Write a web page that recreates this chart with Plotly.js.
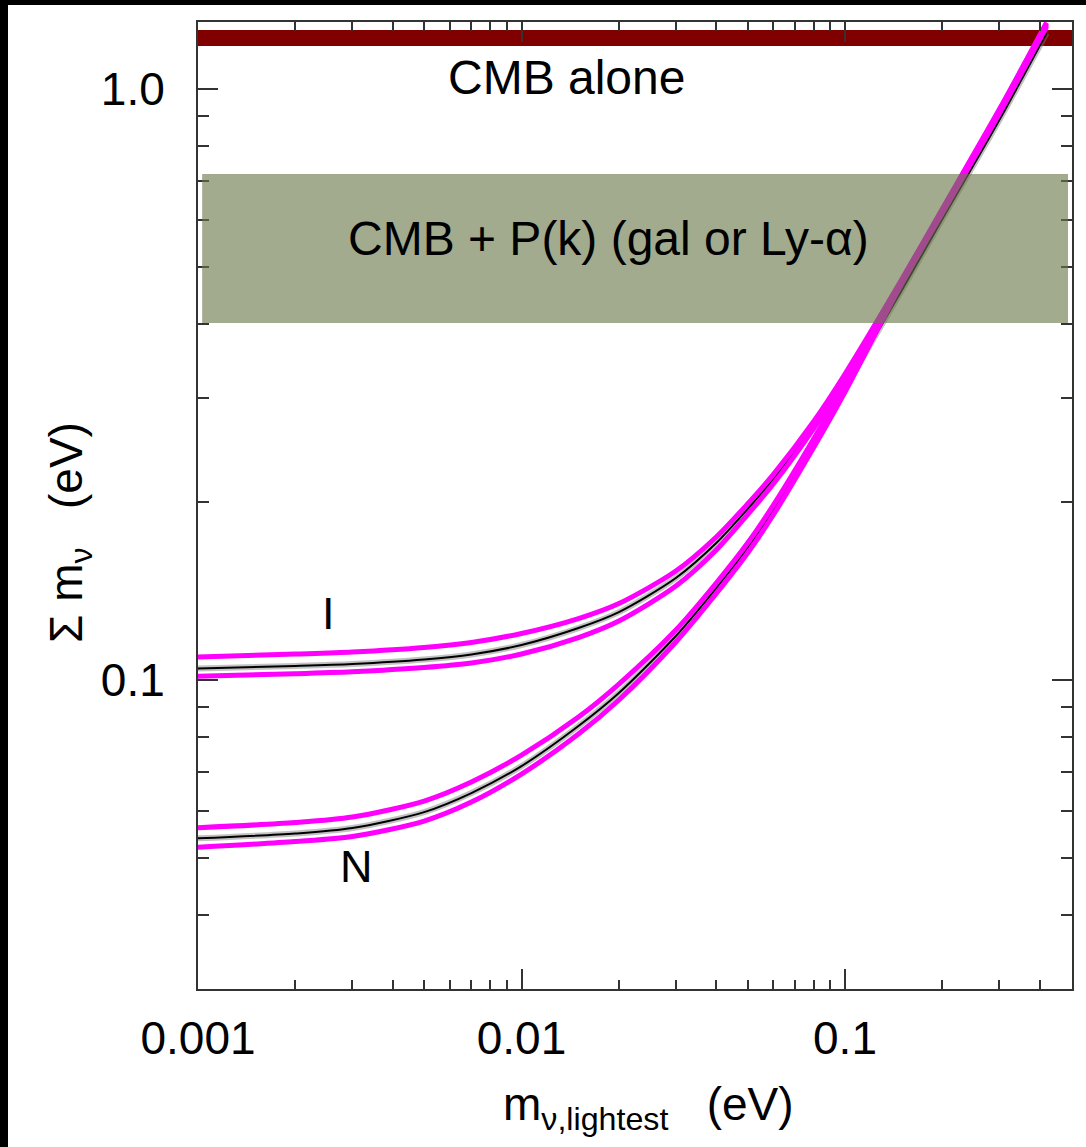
<!DOCTYPE html>
<html>
<head>
<meta charset="utf-8">
<script src="https://cdn.plot.ly/plotly-3.0.1.min.js"></script>
<style>
  html, body { margin:0; padding:0; background:#000; }
  body { width:1086px; height:1147px; position:relative; overflow:hidden; }
  #chart { position:absolute; left:8px; top:5px; width:1078px; height:1142px; background:#fff; }
</style>
</head>
<body>
<div id="chart"></div>
<script>
// ---- data ----
// lightest neutrino mass (eV)
const mLightest = [0.001,0.002,0.003,0.005,0.007,0.01,0.015,0.02,0.03,0.04,0.05,0.06,0.08,0.1,0.15,0.2,0.3,0.42];
// Inverted hierarchy: sum of masses (eV)
const sumI_upper = [0.1094,0.11066,0.11153,0.11350,0.11574,0.11987,0.12704,0.13471,0.15291,0.17457,0.19861,0.22266,0.27380,0.32951,0.4770,0.6273,0.9240,1.296];
const sumI_lower = [0.1015,0.1025,0.10329,0.10499,0.10685,0.11066,0.1180,0.12585,0.14421,0.16596,0.19055,0.21459,0.26638,0.32189,0.4715,0.6200,0.9143,1.283];
const mLightestI_central = [0.001,0.002,0.003,0.005,0.007,0.01,0.015,0.02,0.03,0.04,0.05,0.06,0.08,0.085];
const sumI_central = [0.1046,0.10561,0.10643,0.10831,0.11045,0.11462,0.12245,0.13029,0.14879,0.17052,0.19469,0.21878,0.27009,0.28522];
// Normal hierarchy
const sumN_upper = [0.05625,0.05739,0.05863,0.06241,0.06721,0.07465,0.08657,0.09845,0.12150,0.14592,0.1705,0.19745,0.25572,0.31686,0.4752,0.6238,0.9197,1.291];
const sumN_lower = [0.05210,0.05329,0.05434,0.05773,0.06215,0.06933,0.08102,0.09250,0.11596,0.14006,0.1640,0.19019,0.24739,0.30716,0.4696,0.6168,0.9091,1.276];
const sumN_central = [0.05396,0.05498,0.05617,0.05977,0.06437,0.07151,0.08359,0.09506,0.11870,0.14309,0.16726,0.19393,0.25177,0.31199,0.4570,0.6026,0.8861,1.244];

// bands (eV)
const cmbAloneBand = [1.182, 1.258];
const cmbPkBand = [0.402, 0.718];
const cmbPkBandX = [0.00103, 0.489];

// labels
const bandLabels = ["CMB alone", "CMB + P(k) (gal or Ly-\u03b1)"];
const curveLabels = ["I", "N"];

// ticks
const xTickVals = [0.001, 0.01, 0.1];
const xTickText = ["0.001", "0.01", "0.1"];
const xMinorVals = [0.002,0.003,0.004,0.005,0.006,0.007,0.008,0.009,0.02,0.03,0.04,0.05,0.06,0.07,0.08,0.09,0.2,0.3,0.4];
const yTickVals = [0.1, 1.0];
const yTickText = ["0.1", "1.0"];
const yMinorVals = [0.04,0.05,0.06,0.07,0.08,0.09,0.2,0.3,0.4,0.5,0.6,0.7,0.8,0.9];

const FONT = "Liberation Sans, Arial, Helvetica, sans-serif";
const MAGENTA = "#ff00ff";

function halo(x, y) {
  return {x:x, y:y, type:'scatter', mode:'lines', hoverinfo:'skip',
          line:{color:'rgba(120,120,120,0.45)', width:6, shape:'spline', smoothing:0.8}};
}
function core(x, y) {
  return {x:x, y:y, type:'scatter', mode:'lines', hoverinfo:'skip',
          line:{color:'#000', width:2, shape:'spline', smoothing:0.8}};
}
function mag(x, y) {
  return {x:x, y:y, type:'scatter', mode:'lines', hoverinfo:'skip',
          line:{color:MAGENTA, width:5, shape:'spline', smoothing:0.8}};
}

const traces = [
  halo(mLightestI_central, sumI_central),
  core(mLightestI_central, sumI_central),
  halo(mLightest, sumN_central),
  core(mLightest, sumN_central),
  mag(mLightest, sumI_upper),
  mag(mLightest, sumI_lower),
  mag(mLightest, sumN_upper),
  mag(mLightest, sumN_lower)
];

const axisCommon = {
  type:'log', showgrid:false, zeroline:false,
  showline:true, linecolor:'#333', linewidth:2, mirror:'ticks',
  ticks:'inside', ticklen:20, tickwidth:2, tickcolor:'#333',
  tickmode:'array',
  tickfont:{family:FONT, size:46, color:'#000'},
  fixedrange:true
};

const layout = {
  width:1078, height:1142,
  margin:{l:190, r:14, t:17, b:158, pad:0},
  paper_bgcolor:'#fff', plot_bgcolor:'#fff',
  showlegend:false,
  xaxis: Object.assign({}, axisCommon, {
    range:[-3, -0.2983],
    tickvals:xTickVals, ticktext:xTickText,
    ticklabelstandoff:8,
    minor:{ticks:'inside', ticklen:9, tickwidth:2, tickcolor:'#333', tickmode:'array', tickvals:xMinorVals, showgrid:false}
  }),
  yaxis: Object.assign({}, axisCommon, {
    range:[-1.5228, 0.1134],
    tickvals:yTickVals, ticktext:yTickText,
    ticklabelstandoff:22,
    minor:{ticks:'inside', ticklen:11, tickwidth:2, tickcolor:'#333', tickmode:'array', tickvals:yMinorVals, showgrid:false}
  }),
  shapes:[
    {type:'rect', xref:'paper', yref:'y', x0:0, x1:1, y0:cmbAloneBand[0], y1:cmbAloneBand[1],
     fillcolor:'#800000', line:{width:0}, layer:'below'},
    {type:'rect', xref:'x', yref:'y', x0:cmbPkBandX[0], x1:cmbPkBandX[1], y0:cmbPkBand[0], y1:cmbPkBand[1],
     fillcolor:'rgb(105,120,73)', opacity:0.62, line:{width:0}, layer:'above'}
  ],
  annotations:[
    {text:bandLabels[0], xref:'paper', yref:'paper', x:0.4216, y:0.943, xanchor:'center', yanchor:'middle',
     showarrow:false, font:{family:FONT, size:48, color:'#000'}},
    {text:bandLabels[1], xref:'paper', yref:'paper', x:0.4697, y:0.7766, xanchor:'center', yanchor:'middle',
     showarrow:false, font:{family:FONT, size:48, color:'#000'}},
    {text:curveLabels[0], xref:'paper', yref:'paper', x:0.1493, y:0.3883, xanchor:'center', yanchor:'middle',
     showarrow:false, font:{family:FONT, size:45, color:'#000'}},
    {text:curveLabels[1], xref:'paper', yref:'paper', x:0.1808, y:0.1265, xanchor:'center', yanchor:'middle',
     showarrow:false, font:{family:FONT, size:45, color:'#000'}},
    {text:'m<sub>\u03bd,lightest</sub>\u00a0\u00a0\u00a0(eV)', xref:'paper', yref:'paper', x:0.516, y:-0.123,
     xanchor:'center', yanchor:'middle', showarrow:false, font:{family:FONT, size:46, color:'#000'}},
    {text:'\u03a3 m<sub>\u03bd</sub>\u00a0\u00a0\u00a0(eV)', xref:'paper', yref:'paper', x:-0.1465, y:0.4726,
     xanchor:'center', yanchor:'middle', textangle:-90, showarrow:false, font:{family:FONT, size:46, color:'#000'}}
  ]
};

Plotly.newPlot('chart', traces, layout, {staticPlot:true, displayModeBar:false});
</script>
</body>
</html>
